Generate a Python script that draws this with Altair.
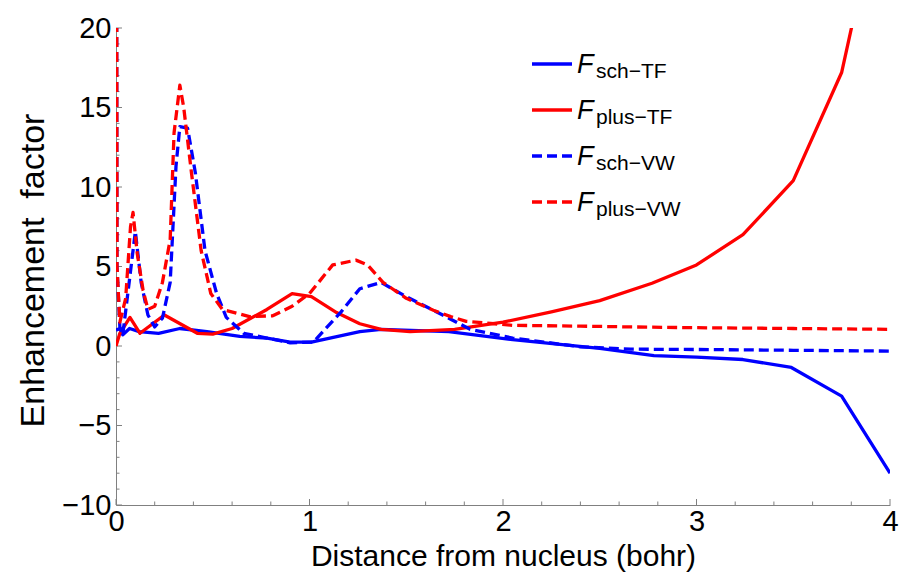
import altair as alt
import pandas as pd

# ---------------- data ----------------
x_sch_tf = [0.0, 0.02, 0.035, 0.07, 0.12, 0.22, 0.33, 0.47, 0.64, 0.78, 0.9, 1.01,
            1.26, 1.37, 1.72, 2.05, 2.5, 2.78, 3.0, 3.24, 3.49, 3.75, 4.0]
y_sch_tf = [1.0, 1.1, 0.7, 1.1, 0.9, 0.8, 1.1, 0.9, 0.6, 0.5, 0.25, 0.25,
            0.9, 1.05, 0.9, 0.4, -0.15, -0.6, -0.7, -0.85, -1.35, -3.15, -8.0]

x_plus_tf = [0.0, 0.02, 0.072, 0.124, 0.25, 0.42, 0.5, 0.6, 0.78, 0.91, 1.01, 1.14,
             1.26, 1.37, 1.52, 1.75, 2.0, 2.25, 2.5, 2.77, 3.0, 3.24, 3.5, 3.75, 4.0]
y_plus_tf = [0.0, 0.8, 1.8, 0.8, 1.95, 0.8, 0.75, 1.1, 2.3, 3.3, 3.1, 2.1,
             1.4, 1.05, 0.9, 1.05, 1.5, 2.15, 2.85, 3.95, 5.1, 7.0, 10.4, 17.2, 31.0]

x_sch_vw = [0.0, 0.005, 0.02, 0.035, 0.1, 0.13, 0.165, 0.2, 0.24, 0.28, 0.31, 0.33,
            0.37, 0.41, 0.46, 0.52, 0.57, 0.66, 0.78, 0.9, 1.02, 1.16, 1.26, 1.37,
            1.5, 1.64, 1.72, 1.83, 2.05, 2.4, 2.66, 3.0, 3.5, 4.0]
y_sch_vw = [60.0, 5.0, 1.2, 0.7, 7.2, 4.0, 1.95, 1.2, 1.75, 4.0, 11.3, 13.8,
            13.7, 10.9, 6.0, 3.3, 1.8, 0.8, 0.5, 0.2, 0.25, 2.1, 3.6, 4.0,
            3.1, 2.25, 1.75, 1.05, 0.5, -0.05, -0.2, -0.22, -0.27, -0.32]

x_plus_vw = [0.0, 0.005, 0.02, 0.05, 0.075, 0.088, 0.11, 0.14, 0.165, 0.2, 0.24, 0.28,
             0.3, 0.33, 0.35, 0.39, 0.44, 0.49, 0.55, 0.69, 0.81, 0.91, 1.0, 1.12,
             1.24, 1.3, 1.38, 1.5, 1.64, 1.73, 1.81, 2.05, 2.4, 2.66, 3.0, 3.5, 4.0]
y_plus_vw = [60.0, 5.0, 1.5, 3.0, 7.5, 8.4, 5.8, 3.5, 2.3, 2.5, 4.0, 6.7,
             13.4, 16.4, 15.0, 10.9, 6.0, 3.3, 2.3, 1.85, 1.9, 2.5, 3.3, 5.1,
             5.4, 5.1, 4.0, 3.0, 2.25, 1.85, 1.55, 1.3, 1.25, 1.2, 1.15, 1.1, 1.05]

x_major_ticks = [0, 1, 2, 3, 4]
x_minor_ticks = [0.2, 0.4, 0.6, 0.8, 1.2, 1.4, 1.6, 1.8, 2.2, 2.4, 2.6, 2.8,
                 3.2, 3.4, 3.6, 3.8]
y_major_ticks = [-10, -5, 0, 5, 10, 15, 20]
y_minor_ticks = [v for v in range(-10, 21) if v % 5 != 0]

legend_subs = ["sch\u2212TF", "plus\u2212TF", "sch\u2212VW", "plus\u2212VW"]
legend_colors = ["#0000ff", "#ff0000", "#0000ff", "#ff0000"]
legend_dashed = [False, False, True, True]

# ---------------- layout ----------------
W, H = 774, 477
FONT = "Liberation Sans"
GRAY = "#808080"
DASH = [10, 5]
LW = 3.3

xscale = alt.Scale(domain=[0, 4], nice=False, zero=False)
yscale = alt.Scale(domain=[-10, 20], nice=False, zero=False)

x_axis = alt.Axis(values=x_major_ticks, ticks=False, grid=False, domainColor=GRAY,
                  domainWidth=1, labelFont=FONT, labelFontSize=29, labelColor="black",
                  labelPadding=2, labelFlush=False, labelOverlap=False,
                  title="Distance from nucleus (bohr)", titleFont=FONT, titleFontSize=30,
                  titleFontWeight="normal", titleColor="black", titleY=60,
                  titleBaseline="alphabetic")
y_axis = alt.Axis(values=y_major_ticks, ticks=False, grid=False, domainColor=GRAY,
                  domainWidth=1, labelFont=FONT, labelFontSize=29, labelColor="black",
                  labelPadding=5, labelFlush=False, labelOverlap=False,
                  labelBaseline="middle",
                  title="Enhancement\u00a0 factor", titleFont=FONT, titleFontSize=34,
                  titleFontWeight="normal", titleColor="black", titleX=-73, titleY=242,
                  titleBaseline="alphabetic", titleAlign="center")


def series(xs, ys, color, dashed):
    df = pd.DataFrame({"x": xs, "y": ys})
    kw = dict(color=color, strokeWidth=LW, clip=True, strokeJoin="round")
    if dashed:
        kw["strokeDash"] = DASH
    return alt.Chart(df).mark_line(**kw).encode(
        x=alt.X("x:Q", scale=xscale, axis=x_axis),
        y=alt.Y("y:Q", scale=yscale, axis=y_axis),
        order=alt.Order("i:Q"),
    ).transform_window(i="row_number()")


def xticks(vals, length):
    df = pd.DataFrame({"x": vals})
    return alt.Chart(df).mark_rule(color=GRAY, strokeWidth=1).encode(
        x=alt.X("x:Q", scale=xscale, axis=x_axis),
        y=alt.value(H), y2=alt.value(H - length))


def yticks(vals, length):
    df = pd.DataFrame({"y": vals})
    return alt.Chart(df).mark_rule(color=GRAY, strokeWidth=1).encode(
        y=alt.Y("y:Q", scale=yscale, axis=y_axis),
        x=alt.value(0), x2=alt.value(length))


layers = [
    xticks(x_major_ticks, 6), xticks(x_minor_ticks, 3.5),
    yticks(y_major_ticks, 6), yticks(y_minor_ticks, 3.5),
    series(x_sch_tf, y_sch_tf, "#0000ff", False),
    series(x_plus_tf, y_plus_tf, "#ff0000", False),
    series(x_sch_vw, y_sch_vw, "#0000ff", True),
    series(x_plus_vw, y_plus_vw, "#ff0000", True),
]

# ---------------- hand-built legend (subscripted labels) ----------------
one = pd.DataFrame({"a": [0]})
row0, row_gap = 36, 46
for k, (sub, col, dsh) in enumerate(zip(legend_subs, legend_colors, legend_dashed)):
    ry = row0 + k * row_gap
    kw = dict(color=col, strokeWidth=LW)
    if dsh:
        kw["strokeDash"] = DASH
    layers.append(alt.Chart(one).mark_rule(**kw).encode(
        x=alt.value(416), x2=alt.value(456), y=alt.value(ry)))
    layers.append(alt.Chart(one).mark_text(
        text="F", font=FONT, fontStyle="italic", fontSize=27, color="black",
        align="left", baseline="alphabetic").encode(
        x=alt.value(461), y=alt.value(ry + 9)))
    layers.append(alt.Chart(one).mark_text(
        text=sub, font=FONT, fontSize=21, color="black",
        align="left", baseline="alphabetic").encode(
        x=alt.value(480), y=alt.value(ry + 14)))

chart = alt.layer(*layers).properties(
    width=W, height=H,
    autosize=alt.AutoSizeParams(type="none"),
    padding={"left": 116, "top": 28, "right": 16, "bottom": 71},
    background="white",
).configure_view(stroke=None)

chart.save("out.html", embed_options={"renderer": "svg", "actions": False})
